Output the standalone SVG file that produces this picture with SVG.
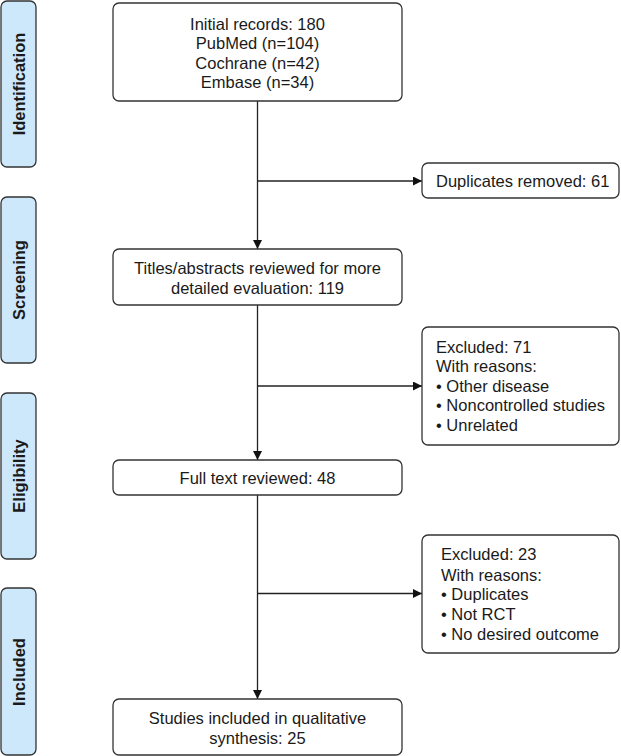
<svg xmlns="http://www.w3.org/2000/svg" width="621" height="756" viewBox="0 0 621 756">
<style>
.box{fill:#fff;stroke:#333;stroke-width:1.3}
.side{fill:#cde8fb;stroke:#333;stroke-width:1.3}
.t{font-family:"Liberation Sans",Arial,sans-serif;font-size:16.5px;fill:#1a1a1a}
.c{text-anchor:middle}
.s{font-family:"Liberation Sans",Arial,sans-serif;font-size:16.5px;font-weight:bold;fill:#1a1a1a;text-anchor:middle}
.ln{fill:none;stroke:#222;stroke-width:1.3}
</style>
<defs>
<marker id="ah" viewBox="0 0 10 10" refX="10" refY="5" markerWidth="9" markerHeight="9" markerUnits="userSpaceOnUse" orient="auto">
<path d="M0,0 L10,5 L0,10 Z" fill="#111"/>
</marker>
</defs>
<g id="phase-identification"><rect class="side" x="1" y="1" width="35" height="166" rx="6"/><text class="s" transform="translate(24.5,84) rotate(-90)">Identification</text></g>
<g id="phase-screening"><rect class="side" x="1" y="197" width="35" height="166" rx="6"/><text class="s" transform="translate(24.5,280) rotate(-90)">Screening</text></g>
<g id="phase-eligibility"><rect class="side" x="1" y="393" width="35" height="166" rx="6"/><text class="s" transform="translate(24.5,476) rotate(-90)">Eligibility</text></g>
<g id="phase-included"><rect class="side" x="1" y="588" width="35" height="167" rx="6"/><text class="s" transform="translate(24.5,672) rotate(-90)">Included</text></g>

<g id="connectors">
<line class="ln" x1="257.5" y1="101" x2="257.5" y2="249" marker-end="url(#ah)"/>
<line class="ln" x1="257.5" y1="181" x2="422" y2="181" marker-end="url(#ah)"/>
<line class="ln" x1="257.5" y1="305" x2="257.5" y2="460" marker-end="url(#ah)"/>
<line class="ln" x1="257.5" y1="386" x2="422" y2="386" marker-end="url(#ah)"/>
<line class="ln" x1="257.5" y1="495" x2="257.5" y2="699" marker-end="url(#ah)"/>
<line class="ln" x1="257.5" y1="593.5" x2="422" y2="593.5" marker-end="url(#ah)"/>
</g>

<g id="initial-records"><rect class="box" x="113" y="3" width="289" height="98" rx="6"/>
<text class="t c" x="257.5" y="29.5">Initial records: 180</text>
<text class="t c" x="257.5" y="49">PubMed (n=104)</text>
<text class="t c" x="257.5" y="68.5">Cochrane (n=42)</text>
<text class="t c" x="257.5" y="88">Embase (n=34)</text></g>

<g id="duplicates"><rect class="box" x="422" y="163" width="197" height="35" rx="6"/>
<text class="t" x="436" y="186.5">Duplicates removed: 61</text></g>

<g id="titles-abstracts"><rect class="box" x="113" y="249" width="289" height="56" rx="6"/>
<text class="t c" x="257.5" y="274">Titles/abstracts reviewed for more</text>
<text class="t c" x="257.5" y="293.5">detailed evaluation: 119</text></g>

<g id="excluded-71"><rect class="box" x="422" y="327" width="197" height="118" rx="6"/>
<text class="t" x="436" y="352.5">Excluded: 71</text>
<text class="t" x="436" y="372">With reasons:</text>
<text class="t" x="436" y="391.7">• Other disease</text>
<text class="t" x="436" y="411.4">• Noncontrolled studies</text>
<text class="t" x="436" y="431">• Unrelated</text></g>

<g id="full-text"><rect class="box" x="113" y="460" width="289" height="35" rx="6"/>
<text class="t c" x="257.5" y="484">Full text reviewed: 48</text></g>

<g id="excluded-23"><rect class="box" x="422" y="535" width="197" height="118" rx="6"/>
<text class="t" x="441" y="560">Excluded: 23</text>
<text class="t" x="441" y="580.5">With reasons:</text>
<text class="t" x="441" y="600">• Duplicates</text>
<text class="t" x="441" y="620">• Not RCT</text>
<text class="t" x="441" y="640">• No desired outcome</text></g>

<g id="included-studies"><rect class="box" x="113" y="699" width="289" height="56" rx="6"/>
<text class="t c" x="257.5" y="724">Studies included in qualitative</text>
<text class="t c" x="257.5" y="743.5">synthesis: 25</text></g>
</svg>
